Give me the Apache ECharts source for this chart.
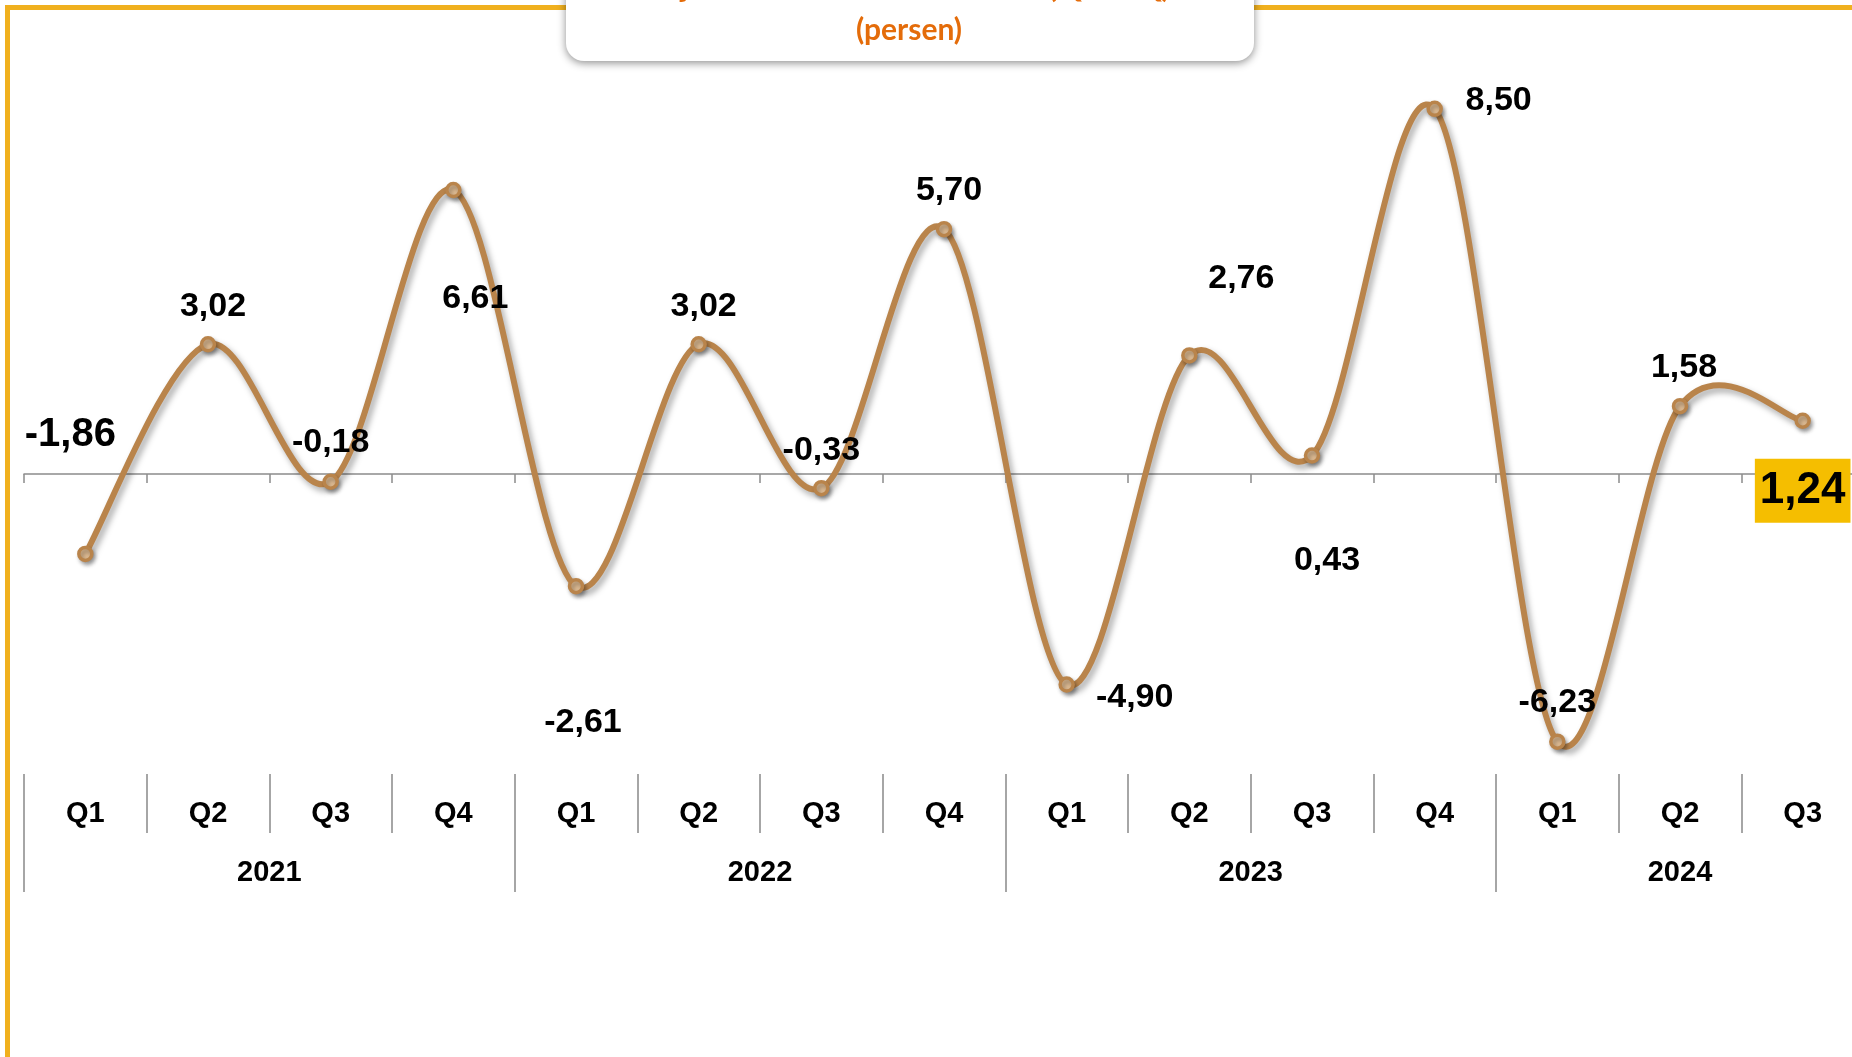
<!DOCTYPE html>
<html>
<head>
<meta charset="utf-8">
<script src="https://cdn.jsdelivr.net/npm/echarts@6/dist/echarts.min.js"></script>
<style>
html,body{margin:0;padding:0;background:#fff;}
#chart{width:1852px;height:1057px;}
</style>
</head>
<body>
<div id="chart"></div>
<script>
// ---- data ----
const quarters = ['Q1','Q2','Q3','Q4','Q1','Q2','Q3','Q4','Q1','Q2','Q3','Q4','Q1','Q2','Q3'];
const years = ['2021','2022','2023','2024'];
const quartersPerYear = [4, 4, 4, 3];
const growth = [-1.86, 3.02, -0.18, 6.61, -2.61, 3.02, -0.33, 5.70, -4.90, 2.76, 0.43, 8.50, -6.23, 1.58, 1.24];
const titleLine1 = 'Laju Pertumbuhan Ekonomi (Q-to-Q)';
const titleLine2 = '(persen)';

// ---- label placement (layout only) ----
const labelOffsets = [[-15,-119],[5,-38],[0,-39],[22,109],[7,136],[5,-38],[0,-38],[5,-39],[68,13],[52,-77],[15,105],[64,-8],[0,-39],[4,-39],[0,70]];

const NARROW = "'Liberation Sans Narrow','Arial Narrow','Liberation Sans',Arial,sans-serif";
const fmt = v => v.toFixed(2).replace('.', ',');
const lineColor = '#B9844B';

// half-quarter slot axis for year labels
const nQ = quarters.length;
const slotLabels = [];
for (let i = 0; i <= 2 * nQ; i++) slotLabels.push('');
let start = 0;
years.forEach((y, k) => {
  slotLabels[start * 2 + quartersPerYear[k]] = y;
  start += quartersPerYear[k];
});
const yearBoundarySlots = [0];
start = 0;
quartersPerYear.forEach(n => { start += n; yearBoundarySlots.push(start * 2); });
const slotKeys = slotLabels.map((_, i) => 's' + i);

const seriesData = growth.map((v, i) => {
  const item = { value: v, label: { offset: labelOffsets[i] } };
  if (i === 0) item.label.fontSize = 40;
  if (i === growth.length - 1) {
    item.label.fontSize = 44;
    item.label.lineHeight = 48;
    item.label.backgroundColor = '#F5BE00';
    item.label.padding = [8, 5, 8, 5];
  }
  return item;
});

// Excel-style smooth curve: one cubic Bezier per segment (Catmull-Rom, tension 1/6)
function renderSegment(params, api) {
  const i = params.dataIndex;
  const n = growth.length;
  if (i >= n - 1) return null;
  const c = j => api.coord([Math.max(0, Math.min(n - 1, j)), growth[Math.max(0, Math.min(n - 1, j))]]);
  const p0 = c(i - 1), p1 = c(i), p2 = c(i + 1), p3 = c(i + 2);
  return {
    type: 'bezierCurve',
    shape: {
      x1: p1[0], y1: p1[1], x2: p2[0], y2: p2[1],
      cpx1: p1[0] + (p2[0] - p0[0]) / 6, cpy1: p1[1] + (p2[1] - p0[1]) / 6,
      cpx2: p2[0] - (p3[0] - p1[0]) / 6, cpy2: p2[1] - (p3[1] - p1[1]) / 6
    },
    style: {
      fill: null, stroke: lineColor, lineWidth: 6, lineCap: 'round',
      shadowColor: 'rgba(0,0,0,0.35)', shadowBlur: 6, shadowOffsetX: 3, shadowOffsetY: 4
    },
    silent: true
  };
}

const chart = echarts.init(document.getElementById('chart'), null, { renderer: 'canvas' });
const gridLeft = 24, gridWidth = 1840;
const gridBase = { left: gridLeft, width: gridWidth, outerBoundsMode: 'none', containLabel: false };
chart.setOption({
  animation: false,
  backgroundColor: '#ffffff',
  grid: [
    Object.assign({}, gridBase, { top: 44.4, height: 773.3 }),
    Object.assign({}, gridBase, { top: 774, height: 59 }),
    Object.assign({}, gridBase, { top: 774, height: 118 })
  ],
  xAxis: [
    {
      type: 'category', gridIndex: 0, data: quarters, boundaryGap: true,
      axisLine: { show: true, onZero: true, lineStyle: { color: '#8C8C8C', width: 1.5 } },
      axisTick: { show: true, length: 9, lineStyle: { color: '#8C8C8C', width: 1.5 } },
      axisLabel: { show: false }, splitLine: { show: false }
    },
    {
      type: 'category', gridIndex: 1, data: quarters.map((q, i) => q + '_' + i), boundaryGap: true,
      position: 'bottom',
      axisLine: { show: false },
      axisTick: { show: true, inside: true, length: 59, lineStyle: { color: '#A6A6A6', width: 2 } },
      axisLabel: {
        show: true, inside: true, interval: 0, margin: 5,
        formatter: v => v.split('_')[0],
        fontFamily: NARROW, fontWeight: 'bold', fontSize: 29, color: '#000'
      },
      splitLine: { show: false }
    },
    {
      type: 'category', gridIndex: 2, data: slotKeys, boundaryGap: false,
      position: 'bottom',
      axisLine: { show: false },
      axisTick: {
        show: true, inside: true, length: 118,
        interval: (i) => yearBoundarySlots.indexOf(i) >= 0,
        lineStyle: { color: '#A6A6A6', width: 2 }
      },
      axisLabel: {
        show: true, inside: true, interval: 0, margin: 5,
        formatter: (v, i) => slotLabels[i],
        fontFamily: NARROW, fontWeight: 'bold', fontSize: 29, color: '#000'
      },
      splitLine: { show: false }
    }
  ],
  yAxis: [
    { type: 'value', gridIndex: 0, min: -8, max: 10, show: false, splitLine: { show: false } },
    { type: 'value', gridIndex: 1, show: false, splitLine: { show: false } },
    { type: 'value', gridIndex: 2, show: false, splitLine: { show: false } }
  ],
  series: [
    {
      type: 'custom',
      xAxisIndex: 0, yAxisIndex: 0,
      data: growth.map((v, i) => [i, v]),
      renderItem: renderSegment,
      clip: false,
      z: 3
    },
    {
      type: 'line',
      xAxisIndex: 0, yAxisIndex: 0,
      data: seriesData,
      symbol: 'circle',
      symbolSize: 13,
      lineStyle: { width: 0, opacity: 0 },
      itemStyle: {
        color: '#DDBA92', borderColor: lineColor, borderWidth: 3.5,
        shadowColor: 'rgba(0,0,0,0.3)', shadowBlur: 4, shadowOffsetX: 2, shadowOffsetY: 3
      },
      label: {
        show: true, position: 'inside',
        formatter: p => fmt(p.value),
        fontFamily: NARROW, fontWeight: 'bold', fontSize: 34, color: '#000'
      },
      emphasis: { disabled: true },
      z: 5
    }
  ],
  graphic: [
    {
      type: 'rect', z: 0, silent: true,
      shape: { x: 7.5, y: 7.5, width: 1900, height: 1100 },
      style: { fill: 'none', stroke: '#F0B01E', lineWidth: 5 }
    },
    {
      type: 'rect', z: 10, silent: true,
      shape: { x: 566, y: -40, width: 688, height: 101, r: 18 },
      style: { fill: '#ffffff', shadowColor: 'rgba(0,0,0,0.45)', shadowBlur: 8, shadowOffsetX: 0, shadowOffsetY: 2 }
    },
    {
      type: 'text', z: 11, silent: true,
      style: {
        x: 909, y: 3, text: titleLine1, align: 'center', verticalAlign: 'bottom',
        font: "bold 32px Lato, 'Open Sans', sans-serif", fill: '#E46C0A'
      }
    },
    {
      type: 'text', z: 11, silent: true,
      style: {
        x: 909, y: 30, text: titleLine2, align: 'center', verticalAlign: 'middle',
        font: "bold 30px Lato, 'Open Sans', sans-serif", fill: '#E46C0A'
      }
    }
  ]
});
</script>
</body>
</html>
